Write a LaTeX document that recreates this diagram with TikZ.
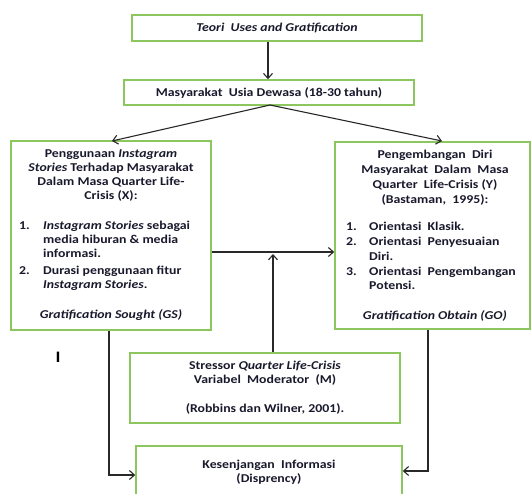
\documentclass[tikz,border=0pt]{standalone}
\usepackage{fontspec}
\setmainfont{Carlito}[FakeStretch=1.15]
\usetikzlibrary{arrows.meta}
\definecolor{boxgreen}{RGB}{140,198,95}
\definecolor{inkline}{RGB}{40,40,40}
\definecolor{inktext}{RGB}{25,25,45}
\tikzset{
  gbox/.style={draw=boxgreen, line width=1.6pt, inner sep=0pt},
  txt/.style={inner sep=0pt, text=inktext, font=\fontsize{12}{14}\selectfont\bfseries},
  txtr/.style={inner sep=0pt, text=inktext, font=\fontsize{12}{14.8}\selectfont\bfseries},
  conn/.style={draw=inkline, line width=1.1pt, -{Straight Barb[length=5pt,width=9pt,line width=1.1pt]}},
  plain/.style={draw=inkline, line width=1.1pt}
}
\begin{document}
\begin{tikzpicture}[x=1pt,y=-1pt]
\useasboundingbox (0,0) rectangle (532,493);
\clip (0,0) rectangle (532,493);
% boxes
\node[gbox, minimum width=290pt, minimum height=26pt] (t) at (277,28) {};
\node[txt] (tt) at (t.center) {\itshape Teori\ \ Uses and Gratification};
\node[gbox, minimum width=290pt, minimum height=25pt] (m) at (269,92.5) {};
\node[txt] (mt) at (m.center) {Masyarakat\ \ Usia Dewasa (18-30 tahun)};

\node[gbox, minimum width=200pt, minimum height=189pt] (x) at (111,235.5) {};
\node[txt, align=center, anchor=north] (xt) at (111,150) {Penggunaan \textit{Instagram}\\ \textit{Stories} Terhadap Masyarakat\\ Dalam Masa Quarter Life-\\ Crisis (X):};
\node[txt, align=left, anchor=north west] (xl) at (19,221) {\makebox[24pt][l]{1.}\textit{Instagram Stories} sebagai\\ \hspace*{24pt}media hiburan \& media\\ \hspace*{24pt}informasi.\\[3pt] \makebox[24pt][l]{2.}Durasi penggunaan fitur\\ \hspace*{24pt}\textit{Instagram Stories}.};
\node[txt, anchor=base] (xg) at (111,318) {\itshape Gratification Sought (GS)};

\node[gbox, minimum width=195pt, minimum height=187pt] (y) at (432.5,235.5) {};
\node[txtr, align=center, anchor=north] (yt) at (435,150) {Pengembangan\ \ Diri\\ Masyarakat\ \ Dalam\ \ Masa\\ Quarter\ \ Life-Crisis (Y)\\ (Bastaman,\ \ 1995):};
\node[txtr, align=left, anchor=north west] (yl) at (346,222) {\makebox[23pt][l]{1.}Orientasi\ \ Klasik.\\ \makebox[23pt][l]{2.}Orientasi\ \ Penyesuaian\\ \hspace*{23pt}Diri.\\ \makebox[23pt][l]{3.}Orientasi\ \ Pengembangan\\ \hspace*{23pt}Potensi.};
\node[txt, anchor=base] (yg) at (435,319) {\itshape Gratification Obtain (GO)};

\node[gbox, minimum width=270pt, minimum height=70pt] (s) at (265,388) {};
\node[txt, align=center] (st) at (s.center) {Stressor \textit{Quarter Life-Crisis}\\ Variabel\ \ Moderator\ \ (M)\\[15pt] (Robbins dan Wilner, 2001).};

\node[gbox, minimum width=266pt, minimum height=55pt, anchor=north] (k) at (269,445) {};
\node[txt, align=center] (kt) at (269,472) {Kesenjangan\ \ Informasi\\ (Disprency)};

\node[inner sep=0pt, font=\fontsize{16}{16}\selectfont\bfseries] (i) at (58,357) {I};

% connectors
\draw[conn] (t.south -| 268,0) -- (m.north -| 268,0);
\coordinate (mb) at (270,105);
\draw[conn] (mb) -- (112,141);
\draw[conn] (mb) -- (442,141);
\coordinate (jx) at (273,252);
\draw[conn] (x.east |- jx) -- (y.west |- jx);
\coordinate (jm) at (273,254);
\draw[conn] (s.north -| jm) -- (jm);
\coordinate (lc) at (109,475);
\draw[conn] (x.south -| lc) -- (lc) -- (k.west |- lc);
\coordinate (rc) at (428,471);
\draw[conn] (y.south -| rc) -- (rc) -- (k.east |- rc);
\end{tikzpicture}
\end{document}
